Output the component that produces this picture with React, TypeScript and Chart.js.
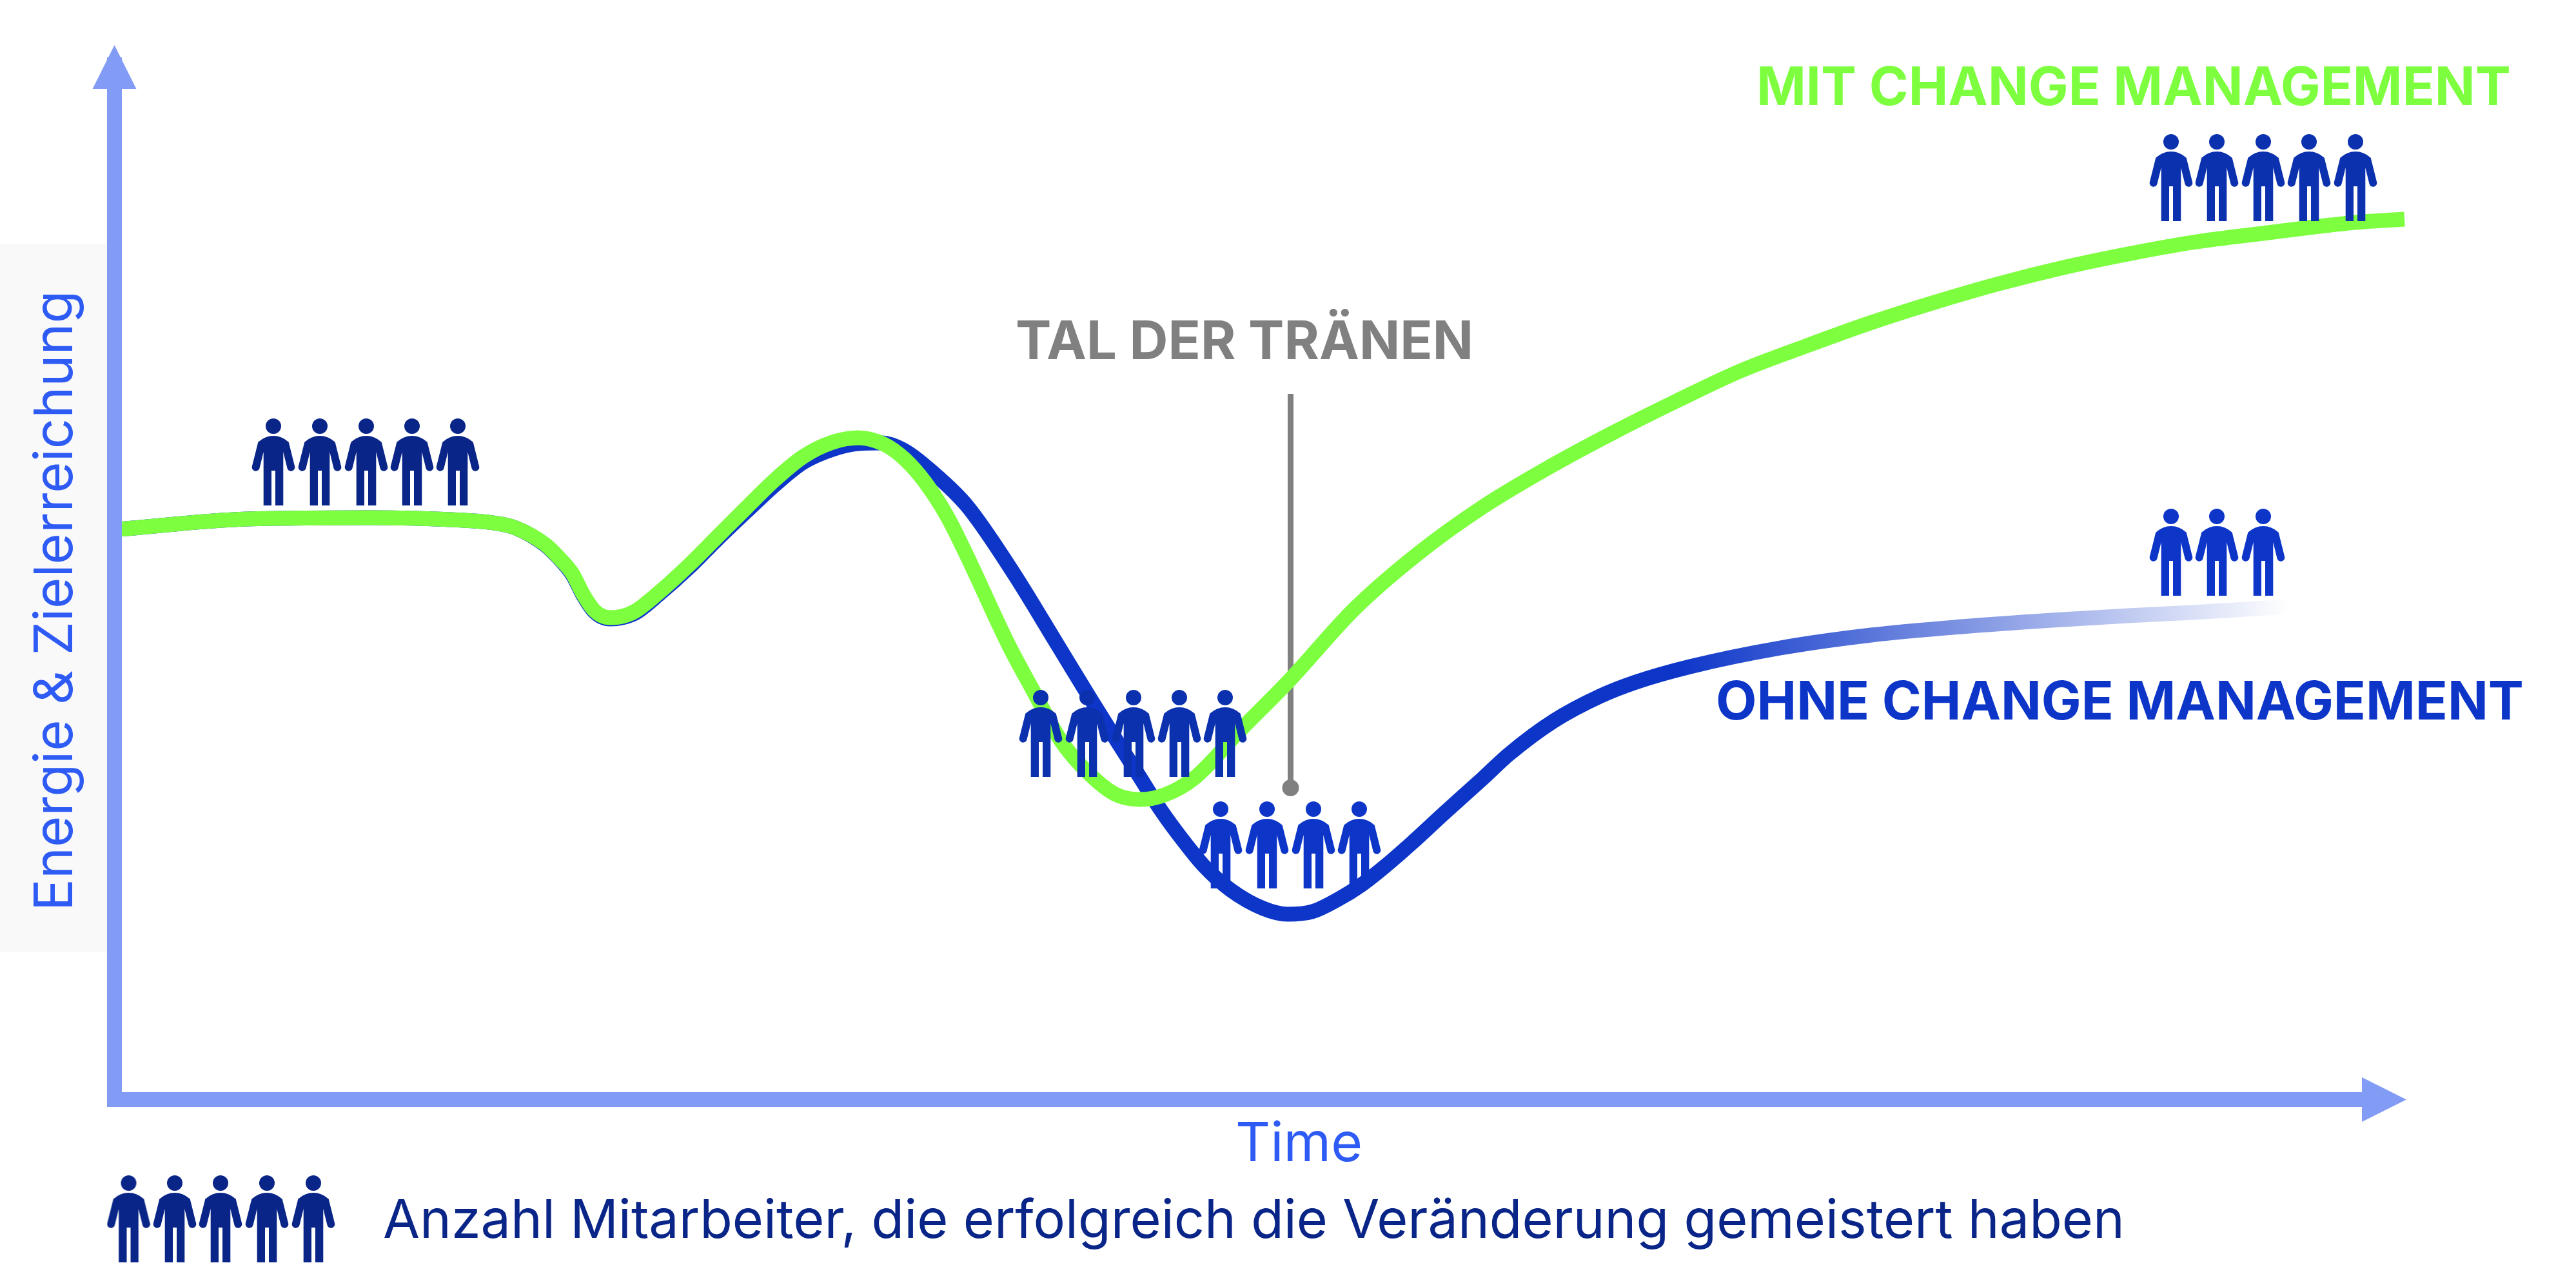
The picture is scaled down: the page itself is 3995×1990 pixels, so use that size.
import React, { useEffect, useRef } from "react";
import { Chart, registerables } from "chart.js";

Chart.register(...registerables);

const mitX = [5.5, 205.5, 396.5, 522.5, 587.5, 622.5, 667.5, 687.5, 710.5, 726.5, 742.5, 755.5, 769.5, 787.5, 807.5, 845.5, 890.5, 934.5, 979.5, 1024.5, 1068.5, 1113.5, 1153.5, 1193.5, 1225.5, 1256.5, 1291.5, 1322.5, 1386.5, 1422.5, 1468.5, 1511.5, 1552.5, 1590.5, 1628.5, 1674.5, 1745.5, 1822.5, 1922.5, 2022.5, 2122.5, 2222.5, 2322.5, 2422.5, 2522.5, 2622.5, 2722.5, 2822.5, 2922.5, 3022.5, 3122.5, 3222.5, 3339.5, 3475.5, 3551.5];
const mitY = [884.5, 900.5, 902.5, 899.5, 894.5, 886.5, 861.5, 842.5, 815.5, 784.5, 760.5, 750.5, 747.5, 749.5, 757.5, 787.5, 828.5, 872.5, 917.5, 961.5, 997.5, 1019.5, 1026.5, 1016.5, 993.5, 958.5, 904.5, 842.5, 705.5, 638.5, 555.5, 505.5, 473.5, 465.5, 472.5, 498.5, 572.5, 650.5, 760.5, 847.5, 919.5, 979.5, 1033.5, 1083.5, 1130.5, 1168.5, 1204.5, 1236.5, 1265.5, 1290.5, 1311.5, 1329.5, 1344.5, 1360.5, 1365.5];

const ohneX = [5.5, 205.5, 396.5, 522.5, 587.5, 622.5, 667.5, 687.5, 710.5, 726.5, 742.5, 755.5, 769.5, 787.5, 807.5, 845.5, 890.5, 934.5, 979.5, 1024.5, 1068.5, 1113.5, 1153.5, 1189.5, 1225.5, 1269.5, 1322.5, 1392.5, 1462.5, 1512.5, 1552.5, 1587.5, 1622.5, 1654.5, 1689.5, 1730.5, 1781.5, 1819.5, 1857.5, 1897.5, 1934.5, 1972.5, 2011.5, 2062.5, 2122.5, 2162.5, 2232.5, 2303.5, 2359.5, 2443.5, 2583.5, 2724.5, 2864.5, 3004.5, 3122.5, 3222.5, 3372.5];
const ohneY = [884.5, 900.5, 902.5, 899.5, 894.5, 886.5, 860.5, 841.5, 813.5, 782.5, 758.5, 748.5, 745.5, 747.5, 754.5, 784.5, 824.5, 868.5, 911.5, 953.5, 988.5, 1008.5, 1017.5, 1018.5, 1006.5, 972.5, 920.5, 819.5, 705.5, 623.5, 559.5, 504.5, 449.5, 405.5, 362.5, 325.5, 296.5, 287.5, 291.5, 310.5, 333.5, 363.5, 397.5, 444.5, 498.5, 535.5, 587.5, 625.5, 647.5, 671.5, 700.5, 720.5, 733.5, 743.5, 750.5, 755.5, 764.5];

const talX = [1824, 1824];
const talY = [483.5, 1094.5];

const startX = [246.5, 318.5, 390.5, 461.5, 532.5];
const startY = [989, 989, 989, 989, 989];
const mitteMitX = [1436.5, 1508.5, 1580.5, 1651.5, 1722.5];
const mitteMitY = [568, 568, 568, 568, 568];
const mitteOhneX = [1715.5, 1787.5, 1859.5, 1930.5];
const mitteOhneY = [395, 395, 395, 395];
const endeMitX = [3189.5, 3260.5, 3332.5, 3403.5, 3475.5];
const endeMitY = [1430, 1430, 1430, 1430, 1430];
const endeOhneX = [3189.5, 3260.5, 3332.5];
const endeOhneY = [849, 849, 849];
const legendeX = [22, 93.5, 164.5, 236.5, 308.5];
const legendeY = [-185, -185, -185, -185, -185];

const LABEL_MIT = "MIT CHANGE MANAGEMENT";
const LABEL_OHNE = "OHNE CHANGE MANAGEMENT";
const LABEL_TAL = "TAL DER TRÄNEN";
const LABEL_X = "Time";
const LABEL_Y = "Energie & Zielerreichung";
const LABEL_LEGENDE = "Anzahl Mitarbeiter, die erfolgreich die Veränderung gemeistert haben";

const GREEN = "#7DFF3F";
const BLUE = "#0D36C9";
const BLUE_MID = "#0C31AE";
const NAVY = "#0A2588";
const AXIS = "#829CF6";
const AXIS_TEXT = "#2F5BF5";
const GRAY = "#808080";
const FONT = "Inter, 'Liberation Sans', sans-serif";

const zip = (xs: number[], ys: number[]) => xs.map((x, i) => ({ x, y: ys[i] }));

function person(color: string): HTMLCanvasElement {
  const c = document.createElement("canvas");
  c.width = 68;
  c.height = 135;
  const g = c.getContext("2d")!;
  g.translate(34, 0);
  g.fillStyle = color;
  g.beginPath();
  g.arc(0, 12, 12, 0, Math.PI * 2);
  g.fill();
  g.beginPath();
  g.moveTo(-23.7, 36.7);
  g.quadraticCurveTo(-13, 27, 0, 27);
  g.quadraticCurveTo(13, 27, 23.7, 36.7);
  g.lineTo(33, 74);
  g.arc(27.3, 75.7, 6, -0.3, Math.PI * 0.95);
  g.lineTo(15.3, 52);
  g.lineTo(15.3, 135);
  g.lineTo(3, 135);
  g.lineTo(3, 81);
  g.lineTo(-3, 81);
  g.lineTo(-3, 135);
  g.lineTo(-15.3, 135);
  g.lineTo(-15.3, 52);
  g.lineTo(-21.3, 76.5);
  g.arc(-27.3, 75.7, 6, Math.PI * 0.05, Math.PI + 0.3);
  g.closePath();
  g.fill();
  return c;
}

const decor = {
  id: "decor",
  beforeDraw(chart: any) {
    const { ctx, width, height } = chart;
    ctx.save();
    ctx.fillStyle = "#FFFFFF";
    ctx.fillRect(0, 0, width, height);
    ctx.fillStyle = "#F9F9F9";
    ctx.fillRect(0, 378, 166, 1099);
    ctx.restore();
  },
  afterDraw(chart: any) {
    const { ctx, chartArea: a } = chart;
    ctx.save();
    ctx.fillStyle = AXIS;
    ctx.beginPath();
    ctx.moveTo(a.left, a.top - 30);
    ctx.lineTo(a.left - 34, a.top + 38);
    ctx.lineTo(a.left + 34, a.top + 38);
    ctx.closePath();
    ctx.fill();
    ctx.beginPath();
    ctx.moveTo(a.right + 50, a.bottom);
    ctx.lineTo(a.right - 19, a.bottom - 34.5);
    ctx.lineTo(a.right - 19, a.bottom + 34.5);
    ctx.closePath();
    ctx.fill();

    const text = (s: string, x: number, y: number, font: string, color: string) => {
      ctx.font = font;
      ctx.fillStyle = color;
      ctx.textAlign = "left";
      ctx.textBaseline = "alphabetic";
      ctx.fillText(s, x, y);
    };
    text(LABEL_MIT, 2724, 163, `700 82.5px ${FONT}`, GREEN);
    text(LABEL_OHNE, 2661, 1116, `700 82.5px ${FONT}`, BLUE);
    text(LABEL_TAL, 1575, 557, `700 83px ${FONT}`, GRAY);
    text(LABEL_X, 1916, 1801, `400 84px ${FONT}`, AXIS_TEXT);
    text(LABEL_LEGENDE, 594, 1920, `400 82.7px ${FONT}`, NAVY);
    ctx.translate(112, 1413);
    ctx.rotate(-Math.PI / 2);
    text(LABEL_Y, 0, 0, `400 83px ${FONT}`, AXIS_TEXT);
    ctx.restore();
  },
};

export default function App() {
  const ref = useRef<HTMLCanvasElement>(null);
  useEffect(() => {
    const canvas = ref.current!;
    const fade = canvas.getContext("2d")!.createLinearGradient(2600, 0, 3550, 0);
    fade.addColorStop(0, "rgba(13,54,201,1)");
    fade.addColorStop(1, "rgba(13,54,201,0)");
    const figures = (label: string, xs: number[], ys: number[], color: string, extra: any = {}) => ({
      label,
      data: zip(xs, ys),
      showLine: false,
      pointStyle: person(color),
      pointRadius: 1,
      clip: false,
      order: 1,
      ...extra,
    });
    const chart = new Chart(canvas, {
      type: "scatter",
      data: {
        datasets: [
          figures("Start", startX, startY, NAVY),
          figures("Tal mit", mitteMitX, mitteMitY, BLUE_MID),
          figures("Tal ohne", mitteOhneX, mitteOhneY, BLUE),
          figures("Ende mit", endeMitX, endeMitY, BLUE_MID, { pointRadius: 60 }),
          figures("Ende ohne", endeOhneX, endeOhneY, BLUE),
          figures("Legende", legendeX, legendeY, NAVY, { pointRadius: 320 }),
          {
            label: "Mit Change Management",
            data: zip(mitX, mitY),
            showLine: true,
            borderColor: GREEN,
            borderWidth: 23,
            pointRadius: 0,
            cubicInterpolationMode: "monotone",
            borderCapStyle: "butt",
            clip: false,
            order: 2,
          },
          {
            label: "Ohne Change Management",
            data: zip(ohneX, ohneY),
            showLine: true,
            borderColor: fade,
            borderWidth: 23,
            pointRadius: 0,
            cubicInterpolationMode: "monotone",
            borderCapStyle: "butt",
            clip: false,
            order: 3,
          },
          {
            label: "Tal der Tränen",
            data: zip(talX, talY),
            showLine: true,
            borderColor: GRAY,
            borderWidth: 9,
            backgroundColor: GRAY,
            pointBackgroundColor: GRAY,
            pointBorderWidth: 0,
            pointRadius: [13, 0],
            order: 4,
          },
        ] as any,
      },
      options: {
        animation: false,
        responsive: false,
        devicePixelRatio: 1,
        layout: { autoPadding: false, padding: { left: 177.5, right: 313, top: 100, bottom: 284.5 } },
        plugins: { legend: { display: false }, tooltip: { enabled: false }, title: { display: false } },
        scales: {
          x: {
            type: "linear",
            min: 0,
            max: 3504.5,
            ticks: { display: false },
            grid: { display: false, drawTicks: false },
            border: { display: true, color: AXIS, width: 23, z: 1 },
          },
          y: {
            type: "linear",
            min: 0,
            max: 1605.5,
            ticks: { display: false },
            grid: { display: false, drawTicks: false },
            border: { display: true, color: AXIS, width: 23, z: 1 },
          },
        },
      } as any,
      plugins: [decor],
    });
    return () => chart.destroy();
  }, []);
  return (
    <canvas
      ref={ref}
      width={3995}
      height={1990}
      style={{ position: "absolute", left: 0, top: 0, width: 3995, height: 1990, display: "block" }}
    />
  );
}
